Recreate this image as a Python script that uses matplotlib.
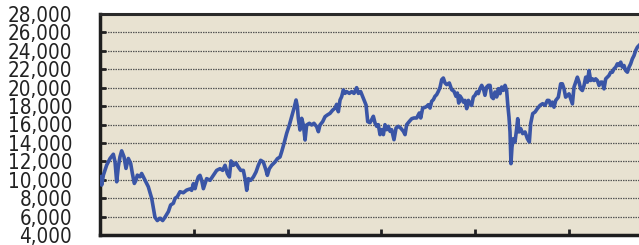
import matplotlib
matplotlib.use("Agg")
import matplotlib.pyplot as plt
from matplotlib.font_manager import FontProperties

# time position (in tick periods) and index level
t = [0.000, 0.018, 0.036, 0.071, 0.107, 0.142, 0.160, 0.178, 0.195, 0.213, 0.231, 0.256,
     0.277, 0.302, 0.327, 0.345, 0.366, 0.384, 0.398, 0.426, 0.444, 0.480, 0.515, 0.551,
     0.569, 0.586, 0.611, 0.640, 0.668, 0.693, 0.729, 0.753, 0.782, 0.800, 0.824, 0.853,
     0.888, 0.924, 0.959, 0.977, 0.995, 1.013, 1.031, 1.048, 1.066, 1.084, 1.102, 1.119,
     1.137, 1.173, 1.208, 1.244, 1.279, 1.308, 1.333, 1.358, 1.379, 1.397, 1.422, 1.450,
     1.475, 1.500, 1.528, 1.546, 1.564, 1.582, 1.606, 1.635, 1.663, 1.688, 1.713, 1.741,
     1.770, 1.784, 1.805, 1.830, 1.866, 1.891, 1.919, 1.937, 1.962, 1.990, 2.019, 2.043,
     2.068, 2.090, 2.104, 2.114, 2.132, 2.150, 2.168, 2.186, 2.203, 2.232, 2.257, 2.281,
     2.310, 2.328, 2.345, 2.374, 2.399, 2.423, 2.452, 2.481, 2.505, 2.523, 2.541, 2.559,
     2.576, 2.594, 2.612, 2.630, 2.658, 2.683, 2.708, 2.736, 2.754, 2.779, 2.808, 2.836,
     2.854, 2.878, 2.896, 2.914, 2.932, 2.950, 2.967, 2.985, 3.003, 3.021, 3.038, 3.056,
     3.074, 3.092, 3.109, 3.134, 3.156, 3.180, 3.205, 3.234, 3.252, 3.269, 3.298, 3.323,
     3.348, 3.376, 3.404, 3.419, 3.440, 3.465, 3.483, 3.500, 3.518, 3.536, 3.554, 3.571,
     3.589, 3.607, 3.625, 3.643, 3.660, 3.678, 3.696, 3.724, 3.749, 3.774, 3.795, 3.810,
     3.824, 3.838, 3.856, 3.873, 3.891, 3.909, 3.927, 3.945, 3.962, 3.980, 3.998, 4.016,
     4.033, 4.051, 4.069, 4.087, 4.104, 4.122, 4.140, 4.158, 4.175, 4.193, 4.211, 4.229,
     4.247, 4.264, 4.282, 4.300, 4.318, 4.335, 4.346, 4.360, 4.371, 4.381, 4.392, 4.406,
     4.424, 4.442, 4.453, 4.467, 4.485, 4.506, 4.531, 4.556, 4.577, 4.591, 4.613, 4.638,
     4.662, 4.691, 4.719, 4.744, 4.769, 4.787, 4.805, 4.822, 4.840, 4.858, 4.886, 4.911,
     4.929, 4.947, 4.964, 4.982, 5.000, 5.018, 5.036, 5.053, 5.071, 5.089, 5.107, 5.124,
     5.142, 5.160, 5.178, 5.196, 5.213, 5.231, 5.249, 5.267, 5.284, 5.302, 5.320, 5.338,
     5.355, 5.373, 5.391, 5.409, 5.426, 5.444, 5.462, 5.480, 5.498, 5.515, 5.533, 5.551,
     5.569, 5.586, 5.604, 5.622, 5.640, 5.657, 5.675, 5.693, 5.711, 5.729, 5.746]
level = [10320, 9420, 10500, 11590, 12310, 12770, 11950, 9780, 11400, 12490, 13140, 12490,
         11230, 12310, 11770, 10680, 9600, 9960, 10500, 10320, 10680, 9960, 9240, 7980,
         6900, 5930, 5570, 5820, 5570, 5930, 6540, 7260, 7440, 7980, 8160, 8700,
         8590, 8880, 9000, 8850, 9570, 9030, 9760, 10300, 10480, 9940, 9030, 9570,
         10120, 9940, 10480, 11020, 11200, 11020, 11570, 10660, 10300, 12040, 11570, 11820,
         11380, 11020, 11020, 10120, 8850, 10120, 9940, 10300, 10840, 11570, 12110, 11930,
         11020, 10480, 11200, 11570, 11930, 12290, 12470, 13050, 13950, 15040, 15950, 16850,
         17760, 18660, 17940, 16670, 15400, 16670, 15950, 14320, 15950, 16130, 15950, 16130,
         15760, 15220, 15950, 16310, 16850, 17030, 17210, 17570, 17760, 18190, 17390, 18660,
         19020, 19750, 19380, 19570, 19380, 19570, 19380, 20000, 19380, 19570, 18840, 18120,
         16310, 16200, 16530, 16890, 16160, 15800, 15980, 14900, 15440, 14900, 15980, 15440,
         15800, 15260, 15440, 14350, 15620, 15800, 15620, 15260, 14900, 15980, 16340, 16630,
         16710, 16710, 17250, 16710, 17790, 17860, 17970, 18150, 17790, 18520, 18700, 19060,
         19240, 19600, 20040, 20870, 21050, 20510, 20330, 20510, 19780, 19600, 19060, 19420,
         18330, 19100, 18810, 18440, 18620, 17720, 18620, 18260, 18080, 18990, 19170, 19530,
         19350, 19890, 20250, 19890, 19170, 20070, 20250, 20250, 18990, 18810, 19530, 18990,
         19890, 19350, 20070, 19710, 20250, 19710, 18260, 16810, 15190, 11750, 13560, 14460,
         14100, 15550, 16630, 15190, 15550, 15010, 15190, 14460, 14100, 16090, 17180, 17360,
         17720, 18080, 18260, 18080, 18620, 18610, 18060, 18430, 17880, 18610, 18970, 20420,
         20420, 19870, 18970, 19150, 19330, 18790, 18240, 20050, 20600, 21140, 20600, 19870,
         19690, 20240, 21140, 20600, 21860, 20780, 20960, 20780, 20960, 20780, 20240, 20600,
         20600, 19870, 20960, 21140, 21320, 21680, 21680, 22050, 22230, 22590, 22410, 22770,
         22230, 22410, 21860, 21680, 22230, 22590, 23130, 23490, 24040, 24400, 24580]

y_ticks = list(range(4000, 28001, 2000))
y_labels = [f"{v:,}" for v in y_ticks]
x_ticks = [1, 2, 3, 4, 5]

W, H = 639, 245
fig = plt.figure(figsize=(W / 100, H / 100), dpi=100)
ax = fig.add_axes([100 / W, 10 / H, 539 / W, 221 / H])
ax.set_facecolor("#e8e2d1")

ax.plot(t, level, color="#3a55a6", lw=2.6, solid_joinstyle="round", zorder=3)

ax.set_xlim(0, 5.746)
ax.set_ylim(4000, 28000)
fp = FontProperties(family="DejaVu Sans", stretch="condensed", size=14.8)
ax.set_yticks(y_ticks)
ax.set_yticklabels(y_labels, fontproperties=fp, color="#222222")
ax.set_xticks(x_ticks)
ax.set_xticklabels([])

for v in y_ticks[1:-1]:
    ax.axhline(v, color="#555555", lw=0.9, ls=(0, (1.2, 0.8)), zorder=1)

ax.tick_params(axis="y", direction="in", length=4, width=2, color="#222222", pad=20)
ax.tick_params(axis="x", direction="in", length=4, width=2, color="#222222")

for s in ["left", "bottom"]:
    ax.spines[s].set_linewidth(2.5)
    ax.spines[s].set_color("#1e1e1e")
ax.spines["top"].set_linewidth(2.2)
ax.spines["top"].set_color("#2a2a2a")
ax.spines["right"].set_visible(False)

fig.savefig("out.png", dpi=100)
